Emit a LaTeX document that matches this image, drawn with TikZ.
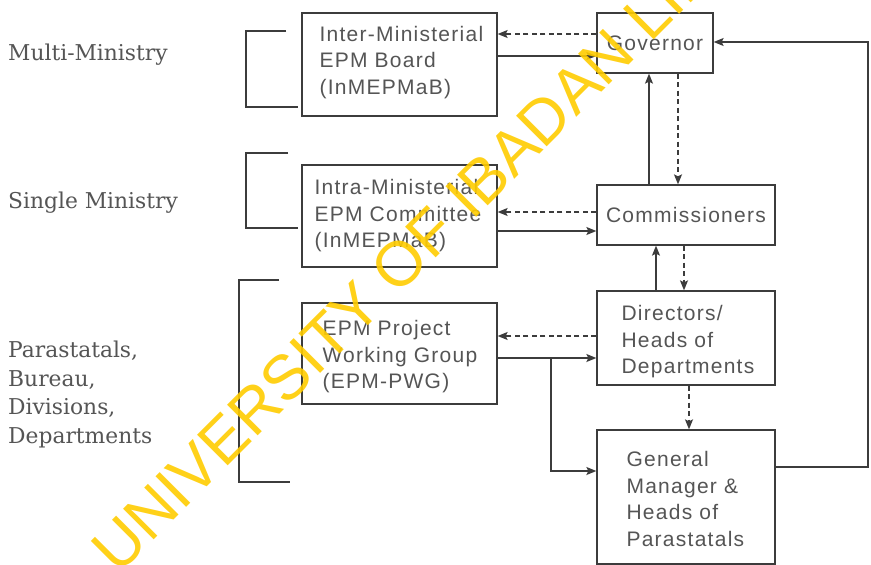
\documentclass[tikz,border=0pt]{standalone}
\usepackage{fontspec}
\usetikzlibrary{arrows.meta}
\newfontfamily\boxfont[LetterSpace=6]{Liberation Sans}
\newfontfamily\lblfont{DejaVu Serif}
\newfontfamily\wmfont{Liberation Sans}
\definecolor{ink}{HTML}{3C3C3C}
\definecolor{txt}{HTML}{555555}
\definecolor{wm}{RGB}{255,204,0}
\begin{document}
\begin{tikzpicture}[x=1pt,y=-1pt,
  box/.style={draw=ink, line width=1.3pt, rectangle, inner sep=0pt,
    font=\boxfont\fontsize{21}{26.5}\selectfont, text=txt},
  btxt/.style={inner sep=0pt, anchor=north west, align=left,
    font=\boxfont\fontsize{21}{26.5}\selectfont, text=txt},
  arr/.style={draw=ink, line width=1.3pt, -{Stealth[length=10pt,width=8pt,inset=2pt]}},
  darr/.style={arr, dash pattern=on 5pt off 3.5pt},
  brk/.style={draw=ink, line width=1.5pt},
  lbl/.style={font=\lblfont\fontsize{21.8}{29}\selectfont, text=txt, anchor=base west, inner sep=0pt}
]
\useasboundingbox (0,0) rectangle (871,565);
\fill[white] (0,0) rectangle (871,565);

% brackets
\draw[brk] (286,31) -- (246,31) -- (246,107) -- (298,107);
\draw[brk] (288,153) -- (246,153) -- (246,228) -- (298,228);
\draw[brk] (279,280) -- (239,280) -- (239,482) -- (290,482);

% left labels
\node[lbl] (l1) at (8,60) {Multi-Ministry};
\node[lbl] (l2) at (8,208) {Single Ministry};
\node[lbl] (l3a) at (8,357) {Parastatals,};
\node[lbl] (l3b) at (8,386) {Bureau,};
\node[lbl] (l3c) at (8,414) {Divisions,};
\node[lbl] (l3d) at (8,443) {Departments};

% boxes
\node[box, minimum width=195pt, minimum height=103pt] (inter) at (399.5,64.5) {};
\node[btxt] (intert) at ([xshift=18pt,yshift=-13.7pt]inter.north west) {Inter-Ministerial\\EPM Board\\(InMEPMaB)};
\node[box, minimum width=116pt, minimum height=60pt] (gov) at (655,43) {Governor};

\node[box, minimum width=195pt, minimum height=102pt] (intra) at (399.5,216) {};
\node[btxt] (intrat) at ([xshift=13pt,yshift=-15pt]intra.north west) {Intra-Ministerial\\EPM Committee\\(InMEPMaB)};
\node[box, minimum width=178pt, minimum height=60pt] (comm) at (686,215) {Commissioners};

\node[box, minimum width=195pt, minimum height=101pt] (proj) at (399.5,353.5) {};
\node[btxt] (projt) at ([xshift=21pt,yshift=-18pt]proj.north west) {EPM Project\\Working Group\\(EPM-PWG)};
\node[box, minimum width=178pt, minimum height=94pt] (dir) at (686,338) {};
\node[btxt] (dirt) at ([xshift=25pt,yshift=-15pt]dir.north west) {Directors/\\Heads of\\Departments};

\node[box, minimum width=178pt, minimum height=134pt] (gm) at (686,497) {};
\node[btxt] (gmt) at ([xshift=30pt,yshift=-22pt]gm.north west) {General\\Manager \&\\Heads of\\Parastatals};

% connectors
\draw[darr] (gov.west |- 0,34) -- (inter.east |- 0,34);
\draw[arr] (inter.east |- 0,56) -- (gov.west |- 0,56);
\draw[arr] (comm.north -| 649,0) -- (gov.south -| 649,0);
\draw[darr] (gov.south -| 678,0) -- (comm.north -| 678,0);

\draw[darr] (comm.west |- 0,212) -- (intra.east |- 0,212);
\draw[arr] (intra.east |- 0,231) -- (comm.west |- 0,231);
\draw[arr] (dir.north -| 656,0) -- (comm.south -| 656,0);
\draw[darr] (comm.south -| 684,0) -- (dir.north -| 684,0);

\draw[darr] (dir.west |- 0,336) -- (proj.east |- 0,336);
\draw[arr] (proj.east |- 0,358) -- (dir.west |- 0,358);
\coordinate (br) at (551,358);
\draw[arr] (br) |- (gm.west |- 0,471);
\draw[darr] (dir.south -| 689,0) -- (gm.north -| 689,0);

\coordinate (fb) at (868,42);
\draw[arr] (gm.east |- 0,467) -| (fb) -- (gov.east |- fb);

% watermark
\begin{scope}
\clip (0,0) rectangle (871,565);
\node[font=\wmfont\fontsize{63}{63}\selectfont, text=wm, rotate=45, anchor=base west, inner sep=0pt, opacity=0.9] (wmk) at (118,576) {UNIVERSITY OF IBADAN LIBRARY};
\end{scope}
\end{tikzpicture}
\end{document}
